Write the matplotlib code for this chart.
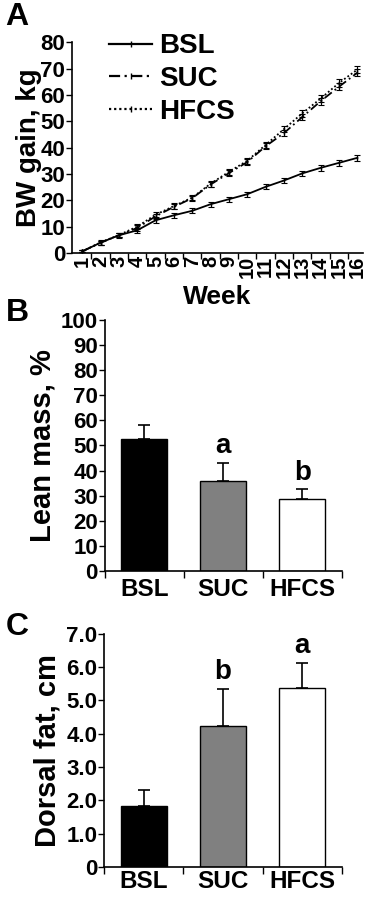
import numpy as np
import matplotlib
matplotlib.use("Agg")
import matplotlib.pyplot as plt
from matplotlib.ticker import FixedLocator
from matplotlib.lines import Line2D

plt.rcParams['font.family'] = ['Liberation Sans', 'DejaVu Sans']
plt.rcParams['font.weight'] = 'bold'

# panel A: body weight gain by week
weeks = np.arange(1, 17)
bsl_gain = [0.6, 3.9, 6.7, 8.6, 12.4, 14.3, 16.0, 18.5, 20.4, 22.3, 25.1, 27.5, 30.2, 32.3, 34.2, 36.1]
suc_gain = [0.6, 3.9, 6.7, 9.5, 13.9, 17.5, 20.8, 26.0, 30.3, 34.5, 40.5, 45.5, 51.6, 57.6, 63.1, 68.4]
hfcs_gain = [0.6, 4.0, 6.8, 10.0, 14.5, 17.8, 21.0, 26.3, 30.8, 35.0, 41.0, 47.0, 53.0, 58.6, 64.5, 69.6]
bsl_err = [0.4, 0.8, 0.8, 0.9, 1.0, 1.0, 1.0, 1.0, 1.0, 1.0, 1.0, 1.0, 1.0, 1.1, 1.1, 1.2]
suc_err = [0.4, 0.8, 0.9, 1.0, 1.0, 1.0, 1.0, 1.1, 1.1, 1.1, 1.2, 1.2, 1.3, 1.3, 1.4, 1.4]
hfcs_err = [0.4, 0.8, 0.9, 1.0, 1.0, 1.0, 1.0, 1.1, 1.1, 1.1, 1.2, 1.2, 1.3, 1.3, 1.4, 1.4]

# panels B and C
groups = ["BSL", "SUC", "HFCS"]
lean_mass = [52.5, 36.0, 28.8]
lean_err = [5.8, 7.2, 3.7]
lean_letters = ["", "a", "b"]
dorsal_fat = [1.82, 4.22, 5.36]
dorsal_err = [0.50, 1.12, 0.77]
dorsal_letters = ["", "b", "a"]
bar_colors = ["black", "#808080", "white"]

fig = plt.figure(figsize=(3.68, 8.97), dpi=100)

# ---- A ----
axA = fig.add_axes([0.196, 0.718, 0.790, 0.235])
styles = [(bsl_gain, bsl_err, '-', "BSL"),
          (suc_gain, suc_err, (0, (5, 2, 1, 2)), "SUC"),
          (hfcs_gain, hfcs_err, (0, (1, 1.3)), "HFCS")]
handles = []
for vals, err, ls, lab in styles:
    axA.errorbar(weeks, vals, yerr=err, color='black', linestyle=ls, lw=1.3,
                 elinewidth=0.8, capsize=2, capthick=0.8, marker='|',
                 markersize=3)
    handles.append(Line2D([], [], color='black', linestyle=ls, lw=1.6,
                          marker='|', markersize=4, label=lab))
axA.set_ylim(0, 80)
axA.set_xlim(0.45, 16.3)
axA.set_yticks(np.arange(0, 81, 10))
axA.set_xticks(weeks)
axA.set_xticklabels([str(w) for w in weeks], rotation=90, fontsize=14.5,
                    fontweight='bold')
axA.xaxis.set_minor_locator(FixedLocator(np.arange(1.5, 16.5, 1)))
axA.tick_params(axis='x', which='major', length=0, pad=2)
axA.tick_params(axis='x', which='minor', length=4, width=1, direction='out')
axA.tick_params(axis='y', labelsize=16, length=4, width=1, pad=1)
for t in axA.get_yticklabels():
    t.set_fontweight('bold')
axA.set_ylabel("BW gain, kg", fontsize=20, fontweight='bold', labelpad=-1)
axA.set_xlabel("Week", fontsize=19, fontweight='bold', labelpad=5)
axA.spines[['top', 'right']].set_visible(False)
axA.spines[['left', 'bottom']].set_linewidth(1.2)
axA.legend(handles=handles, loc='upper left', bbox_to_anchor=(0.09, 1.095),
           frameon=False, prop={'size': 20, 'weight': 'bold'},
           handlelength=1.55, handletextpad=0.25, labelspacing=0.25,
           borderaxespad=0)
fig.text(0.015, 0.998, "A", fontsize=23, fontweight='bold', va='top')


def bar_panel(rect, vals, errs, letters, ylim, ticks, ticklabels, ylabel, letter_off, xpad):
    ax = fig.add_axes(rect)
    x = np.arange(len(groups))
    ax.bar(x, vals, width=0.58, color=bar_colors, edgecolor='black', lw=1.0,
           yerr=[np.zeros(len(errs)), errs], capsize=4,
           error_kw={'elinewidth': 1.2, 'capthick': 1.2})
    for xi, v, e, l in zip(x, vals, errs, letters):
        if l:
            ax.text(xi, v + e + letter_off, l, ha='center', va='bottom',
                    fontsize=20, fontweight='bold')
    ax.set_xlim(-0.5, 2.5)
    ax.set_ylim(*ylim)
    ax.set_yticks(ticks)
    ax.set_yticklabels(ticklabels, fontsize=16, fontweight='bold')
    ax.set_xticks(x)
    ax.set_xticklabels(groups, fontsize=17.5, fontweight='bold')
    ax.xaxis.set_minor_locator(FixedLocator([-0.5, 0.5, 1.5, 2.5]))
    ax.tick_params(axis='x', which='major', length=0, pad=xpad)
    ax.tick_params(axis='x', which='minor', length=5, width=1)
    ax.tick_params(axis='y', length=4, width=1, pad=1)
    ax.set_ylabel(ylabel, fontsize=21, fontweight='bold', labelpad=3)
    ax.spines[['top', 'right']].set_visible(False)
    ax.spines[['left', 'bottom']].set_linewidth(1.2)
    return ax


bar_panel([0.285, 0.3634, 0.644, 0.280], lean_mass, lean_err, lean_letters,
          (0, 100), np.arange(0, 101, 10), [str(v) for v in range(0, 101, 10)],
          "Lean mass, %", 1.5, 5)
fig.text(0.015, 0.668, "B", fontsize=23, fontweight='bold', va='top')

bar_panel([0.283, 0.0334, 0.646, 0.260], dorsal_fat, dorsal_err, dorsal_letters,
          (0, 7), np.arange(0, 8, 1), ["0"] + ["%.1f" % v for v in range(1, 8)],
          "Dorsal fat, cm", 0.12, 2)
fig.text(0.015, 0.318, "C", fontsize=23, fontweight='bold', va='top')

fig.savefig("out.png", dpi=100, facecolor='white')
